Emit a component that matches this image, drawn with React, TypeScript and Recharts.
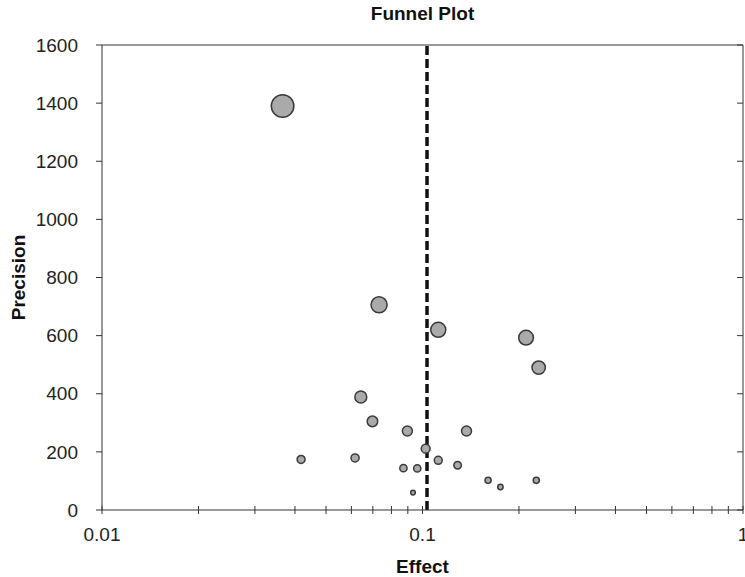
import { ScatterChart, Scatter, XAxis, YAxis, ZAxis, ReferenceLine } from "recharts";

// (effect on log scale, precision linear)
const effect = [0.0366, 0.0732, 0.112, 0.2104, 0.2304, 0.0642, 0.0698, 0.0897, 0.1372, 0.1023,
  0.0418, 0.0616, 0.112, 0.0872, 0.0963, 0.1287, 0.1602, 0.175, 0.2265, 0.0934];
const precision = [1390, 706, 620, 593, 490, 389, 305, 272, 272, 211,
  174, 179, 171, 144, 143, 154, 102, 79, 102, 60];
const pooledEffect = 0.1033;

const xTicks = [0.01, 0.02, 0.03, 0.04, 0.05, 0.06, 0.07, 0.08, 0.09,
  0.1, 0.2, 0.3, 0.4, 0.5, 0.6, 0.7, 0.8, 0.9, 1];
const xMajor = [0.01, 0.1, 1];
const xMajorLabels = ["0.01", "0.1", "1"];
const yTicks = [0, 200, 400, 600, 800, 1000, 1200, 1400, 1600];

const data = effect.map((e, i) => ({ effect: e, precision: precision[i] }));

const FONT = "'Liberation Sans', Arial, sans-serif";
const AXIS = "#333";

function BottomTick(props: any) {
  const { x, y, payload } = props;
  const idx = xMajor.indexOf(payload.value);
  return (
    <g>
      <line x1={x} x2={x} y1={y - 4} y2={y + 4} stroke={AXIS} />
      {idx >= 0 && (
        <text x={x} y={y + 18} dy="0.71em" textAnchor="middle" fontSize={19} fill="#222" fontFamily={FONT}>
          {xMajorLabels[idx]}
        </text>
      )}
    </g>
  );
}

const NoLabel = () => <g />;

export default function App() {
  return (
    <div style={{ position: "relative", width: 745, height: 577, fontFamily: FONT }}>
      <style>{`body{margin:0}`}</style>
      <div style={{ position: "absolute", top: 3, left: 102, width: 641, textAlign: "center", fontWeight: "bold", fontSize: 19, color: "#111" }}>
        Funnel Plot
      </div>
      <ScatterChart width={745} height={577} margin={{ top: 45, right: 2, bottom: 0, left: 0 }}>
        <XAxis
          dataKey="effect"
          type="number"
          scale="log"
          domain={[0.01, 1]}
          allowDataOverflow
          ticks={xTicks}
          interval={0}
          height={67}
          tickSize={0}
          tickMargin={0}
          tickLine={false}
          tick={<BottomTick />}
          axisLine={{ stroke: AXIS }}
          label={{ value: "Effect", position: "insideBottom", offset: 4, fontSize: 19, fontWeight: "bold", fill: "#111", fontFamily: FONT }}
        />
        <XAxis
          xAxisId="top"
          orientation="top"
          type="number"
          scale="log"
          domain={[0.01, 1]}
          allowDataOverflow
          ticks={xTicks}
          interval={0}
          height={1}
          mirror
          tickSize={4}
          tick={NoLabel}
          tickLine={{ stroke: AXIS }}
          axisLine={{ stroke: AXIS }}
        />
        <YAxis
          dataKey="precision"
          type="number"
          domain={[0, 1600]}
          allowDataOverflow
          ticks={yTicks}
          interval={0}
          width={102}
          tickSize={6}
          tickMargin={18}
          tick={{ fontSize: 19, fill: "#222", fontFamily: FONT }}
          tickLine={{ stroke: AXIS }}
          axisLine={{ stroke: AXIS }}
          label={{ value: "Precision", angle: -90, position: "center", dx: -33, fontSize: 19, fontWeight: "bold", fill: "#111", fontFamily: FONT }}
        />
        <YAxis
          yAxisId="right"
          orientation="right"
          type="number"
          domain={[0, 1600]}
          allowDataOverflow
          ticks={yTicks}
          interval={0}
          width={1}
          mirror
          tickSize={6}
          tick={NoLabel}
          tickLine={{ stroke: AXIS }}
          axisLine={{ stroke: AXIS }}
        />
        <ZAxis dataKey="precision" type="number" domain={[0, 1600]} range={[0, 460]} />
        <ReferenceLine x={pooledEffect} stroke="#111" strokeWidth={3.5} strokeDasharray="9 4" />
        <Scatter data={data} fill="#aaaaaa" stroke="#3a3a3a" strokeWidth={1.5} isAnimationActive={false} />
      </ScatterChart>
    </div>
  );
}
